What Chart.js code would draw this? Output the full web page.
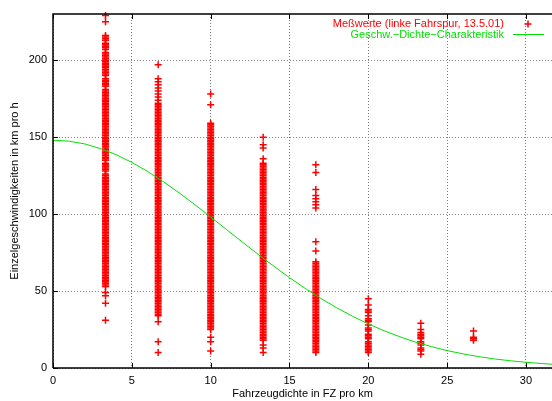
<!DOCTYPE html>
<html>
<head>
<meta charset="utf-8">
<script src="https://cdn.jsdelivr.net/npm/chart.js@4.4.0/dist/chart.umd.min.js"></script>
<style>
html, body { margin: 0; padding: 0; background: #fff; }
</style>
</head>
<body>
<canvas id="plot" width="552" height="401"></canvas>
<script>
// vehicle densities (FZ pro km) where the measurements sit
const densities = [3.33, 6.67, 10, 13.33, 16.67, 20, 23.33, 26.67];

// single speeds (km/h)
const speedsD3 = [229, 225, 216, 215, 214, 213, 211, 210, 209, 208, 207, 205, 204, 203, 202, 201, 200, 199, 198, 197,
  196, 195, 194, 193, 192, 191, 190, 188, 187, 186, 185, 184, 183, 181, 180, 179, 178, 177, 176, 175, 174, 173, 172,
  171, 170, 169, 168, 167, 166, 165, 164, 163, 162, 161, 160, 159, 158, 157, 156, 155, 154, 153, 152, 151, 150, 149,
  148, 147, 146, 145, 144, 143, 142, 141, 140, 139, 138, 137, 136, 135, 133, 132, 131, 130, 129, 128, 126, 125, 124,
  123, 122, 121, 120, 119, 118, 117, 116, 115, 114, 113, 112, 111, 110, 109, 108, 107, 106, 105, 104, 103, 102, 101,
  100, 99, 98, 97, 96, 95, 94, 93, 92, 91, 90, 89, 88, 87, 86, 85, 84, 83, 82, 81, 80, 79, 78, 77, 76, 75, 74, 73, 72,
  71, 70, 69, 68, 67, 66, 65, 64, 63, 62, 61, 60, 59, 58, 57, 56, 55, 54, 53, 49, 47, 42, 31];
const speedsD7 = [197, 188, 186, 184, 182, 180, 178, 176, 174, 172, 171, 170, 169, 168, 167, 166, 165, 164, 163, 162,
  161, 160, 159, 158, 157, 156, 155, 154, 153, 152, 151, 150, 149, 148, 147, 146, 145, 144, 143, 142, 141, 140, 139,
  138, 137, 136, 135, 134, 133, 132, 131, 130, 129, 128, 127, 126, 125, 124, 123, 122, 121, 120, 119, 118, 117, 116,
  115, 114, 113, 112, 111, 110, 109, 108, 107, 106, 105, 104, 103, 102, 101, 100, 99, 98, 97, 96, 95, 94, 93, 92, 91,
  90, 89, 88, 87, 86, 85, 84, 83, 82, 81, 80, 79, 78, 77, 76, 75, 74, 73, 72, 71, 70, 69, 68, 67, 66, 65, 64, 63, 62,
  61, 60, 59, 58, 57, 56, 55, 54, 53, 52, 51, 50, 49, 48, 47, 46, 45, 44, 43, 42, 41, 40, 39, 38, 37, 36, 35, 34, 30,
  17, 10];
const speedsD10 = [178, 171, 159, 158, 157, 156, 155, 154, 153, 152, 151, 150, 149, 148, 147, 146, 145, 144, 143, 142,
  141, 140, 139, 138, 137, 136, 135, 134, 133, 132, 131, 130, 129, 128, 127, 126, 125, 124, 123, 122, 121, 120, 119,
  118, 117, 116, 115, 114, 113, 112, 111, 110, 109, 108, 107, 106, 105, 104, 103, 102, 101, 100, 99, 98, 97, 96, 95,
  94, 93, 92, 91, 90, 89, 88, 87, 86, 85, 84, 83, 82, 81, 80, 79, 78, 77, 76, 75, 74, 73, 72, 71, 70, 69, 68, 67, 66,
  65, 64, 63, 62, 61, 60, 59, 58, 57, 56, 55, 54, 53, 52, 51, 50, 49, 48, 47, 46, 45, 44, 43, 42, 41, 40, 39, 38, 37,
  36, 35, 34, 33, 32, 31, 30, 29, 28, 27, 26, 25, 20, 17, 11];
const speedsD13 = [150, 145, 143, 136, 133, 132, 131, 130, 129, 128, 127, 126, 125, 124, 123, 122, 121, 120, 119, 118,
  117, 116, 115, 114, 113, 112, 111, 110, 109, 108, 107, 106, 105, 104, 103, 102, 101, 100, 99, 98, 97, 96, 95, 94, 93,
  92, 91, 90, 89, 88, 87, 86, 85, 84, 83, 82, 81, 80, 79, 78, 77, 76, 75, 74, 73, 72, 71, 70, 69, 68, 67, 66, 65, 64,
  63, 62, 61, 60, 59, 58, 57, 56, 55, 54, 53, 52, 51, 50, 49, 48, 47, 46, 45, 44, 43, 42, 41, 40, 39, 38, 37, 36, 35,
  34, 33, 32, 31, 30, 29, 28, 27, 26, 25, 24, 23, 22, 21, 20, 19, 18, 15, 13, 10];
const speedsD17 = [132, 127, 116, 112, 110, 108, 106, 104, 82, 76, 69, 68, 67, 66, 65, 64, 63, 62, 61, 60, 59, 58, 57,
  56, 55, 54, 53, 52, 51, 50, 49, 48, 47, 46, 45, 44, 43, 42, 41, 40, 39, 38, 37, 36, 35, 34, 33, 32, 31, 30, 29, 28,
  27, 26, 25, 24, 23, 22, 21, 20, 19, 18, 17, 16, 15, 14, 13, 12, 11, 10];
const speedsD20 = [45, 41, 38, 37, 36, 34, 32, 31, 30, 28, 26, 25, 24, 22, 21, 20, 19, 17, 16, 15, 14, 13, 12, 11, 10];
const speedsD23 = [29, 25, 23, 22, 21, 20, 19, 17, 16, 15, 13, 12, 11, 9];
const speedsD27 = [24, 20, 19, 18];

// speed-density characteristic
const curveX = [0, 1, 2, 3, 4, 5, 6, 7, 8, 9, 10, 11, 12, 13, 14, 15, 16, 17, 18, 19, 20, 21, 22, 23, 24, 25, 26, 27,
  28, 29, 30, 31, 32];
const curveY = [148, 147.4, 145.6, 142.6, 138.6, 133.6, 127.7, 121, 113.8, 106.1, 98.1, 90, 81.9, 73.9, 66.2, 58.7,
  51.7, 45.1, 39.1, 33.6, 28.6, 24.2, 20.3, 16.8, 13.9, 11.3, 9.2, 7.4, 5.9, 4.7, 3.7, 2.9, 2.2];

const seriesNames = ['Meßwerte (linke Fahrspur, 13.5.01)', 'Geschw.\u2212Dichte\u2212Charakteristik'];
const xTitle = 'Fahrzeugdichte in FZ pro km';
const yTitle = 'Einzelgeschwindigkeiten in km pro h';

const FONT = '"Liberation Sans", Arial, sans-serif';
const RED = '#ff0000';
const GREEN = '#00e000';

const columns = [speedsD3, speedsD7, speedsD10, speedsD13, speedsD17, speedsD20, speedsD23, speedsD27];
let measured = [];
columns.forEach(function (col, i) {
  col.forEach(function (v) { measured.push({ x: densities[i], y: v }); });
});
let curve = curveX.map(function (x, i) { return { x: x, y: curveY[i] }; });

// frame, inward ticks and key, gnuplot style
const framePlugin = {
  id: 'frame',
  afterDatasetsDraw(chart) {
    const ctx = chart.ctx;
    const a = chart.chartArea;
    const xs = chart.scales.x, ys = chart.scales.y;
    ctx.save();
    ctx.strokeStyle = '#000';
    ctx.lineWidth = 1.5;
    ctx.beginPath();
    ctx.moveTo(a.left, a.bottom);
    ctx.lineTo(a.left, a.top);
    ctx.lineTo(a.right, a.top);
    ctx.moveTo(a.left, a.bottom);
    ctx.lineTo(a.right, a.bottom);
    ctx.stroke();
    ctx.lineWidth = 1;
    ctx.beginPath();
    xs.ticks.forEach(function (t) {
      const px = Math.round(xs.getPixelForValue(t.value)) + 0.5;
      ctx.moveTo(px, a.bottom); ctx.lineTo(px, a.bottom - 5);
      ctx.moveTo(px, a.top); ctx.lineTo(px, a.top + 5);
    });
    ys.ticks.forEach(function (t) {
      const py = Math.round(ys.getPixelForValue(t.value)) + 0.5;
      ctx.moveTo(a.left, py); ctx.lineTo(a.left + 5, py);
    });
    ctx.stroke();

    // key
    const tx = a.right - 48;
    ctx.font = '11px ' + FONT;
    ctx.textAlign = 'right';
    ctx.textBaseline = 'middle';
    ctx.fillStyle = RED;
    ctx.fillText(seriesNames[0], tx, a.top + 10);
    ctx.fillStyle = GREEN;
    ctx.fillText(seriesNames[1], tx, a.top + 20.5);
    ctx.strokeStyle = RED;
    ctx.lineWidth = 1.5;
    const cx = a.right - 24, cy = a.top + 10;
    ctx.beginPath();
    ctx.moveTo(cx - 3.5, cy); ctx.lineTo(cx + 3.5, cy);
    ctx.moveTo(cx, cy - 3.5); ctx.lineTo(cx, cy + 3.5);
    ctx.stroke();
    ctx.strokeStyle = GREEN;
    ctx.lineWidth = 1;
    ctx.beginPath();
    ctx.moveTo(a.right - 39, a.top + 20.5); ctx.lineTo(a.right - 8, a.top + 20.5);
    ctx.stroke();
    ctx.restore();
  }
};

Chart.defaults.font.family = FONT;
Chart.defaults.font.size = 11;
Chart.defaults.color = '#000';

new Chart(document.getElementById('plot'), {
  type: 'scatter',
  data: {
    datasets: [
      {
        label: seriesNames[1],
        data: curve,
        showLine: true,
        borderColor: GREEN,
        borderWidth: 1,
        pointRadius: 0,
        fill: false,
        tension: 0
      },
      {
        label: seriesNames[0],
        data: measured,
        pointStyle: 'cross',
        pointRadius: 3.5,
        pointBorderWidth: 1.5,
        borderColor: RED,
        backgroundColor: RED,
        clip: 5
      }
    ]
  },
  options: {
    responsive: false,
    animation: false,
    layout: { autoPadding: false, padding: { top: 14, right: 0, left: 0, bottom: 0 } },
    plugins: {
      legend: { display: false },
      tooltip: { enabled: false }
    },
    scales: {
      x: {
        type: 'linear',
        min: 0,
        max: 31.65,
        grid: { color: '#777', drawTicks: false, lineWidth: 1 },
        border: { display: false, dash: [1, 2] },
        ticks: { stepSize: 5, includeBounds: false, padding: 6, maxRotation: 0 },
        title: { display: true, text: xTitle, padding: { top: 0, bottom: 0 }, font: { size: 11 } },
        afterFit(scale) { scale.height = 33; scale.paddingRight = 0; scale.paddingLeft = 0; }
      },
      y: {
        type: 'linear',
        min: 0,
        max: 230,
        grid: { color: '#888', drawTicks: false, lineWidth: 1 },
        border: { display: false, dash: [1, 2] },
        ticks: { stepSize: 50, includeBounds: false, padding: 6 },
        title: { display: true, text: yTitle, padding: { top: 8, bottom: 0 }, font: { size: 11 } },
        afterFit(scale) { scale.width = 53; }
      }
    }
  },
  plugins: [framePlugin]
});
</script>
</body>
</html>
